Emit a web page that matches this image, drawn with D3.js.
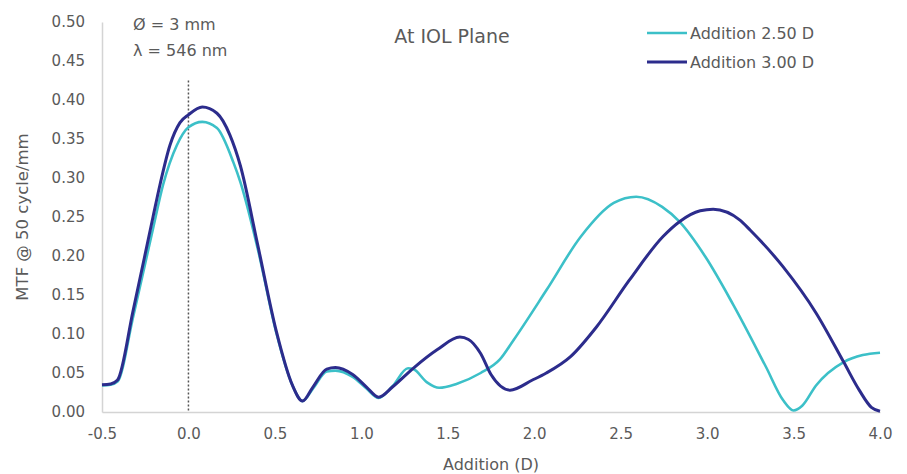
<!DOCTYPE html>
<html>
<head>
<meta charset="utf-8">
<script src="https://cdn.jsdelivr.net/npm/d3@7"></script>
<style>
  html, body { margin: 0; padding: 0; background: #fff; }
  svg { display: block; }
  text { font-family: "DejaVu Sans", "Open Sans", sans-serif; fill: #5a5a5a; }
</style>
</head>
<body>
<script>
// ---- data ----
const xTicks = [-0.5, 0.0, 0.5, 1.0, 1.5, 2.0, 2.5, 3.0, 3.5, 4.0];
const yTicks = [0.00, 0.05, 0.10, 0.15, 0.20, 0.25, 0.30, 0.35, 0.40, 0.45, 0.50];
const seriesNames = ["Addition 2.50 D", "Addition 3.00 D"];

const add250 = [
  [-0.5, 0.034], [-0.45, 0.035], [-0.41, 0.039], [-0.32, 0.122], [-0.205, 0.235],
  [-0.147, 0.291], [-0.067, 0.342], [0.0, 0.365], [0.08, 0.372], [0.165, 0.364],
  [0.26, 0.32], [0.3, 0.295], [0.4, 0.21], [0.51, 0.10], [0.6, 0.035], [0.66, 0.014],
  [0.72, 0.03], [0.8, 0.052], [0.85, 0.053], [0.95, 0.045], [1.03, 0.03],
  [1.1, 0.018], [1.18, 0.033], [1.27, 0.056], [1.3, 0.055], [1.38, 0.038],
  [1.45, 0.031], [1.55, 0.036], [1.69, 0.05], [1.8, 0.067], [1.88, 0.092],
  [2.07, 0.156], [2.27, 0.225], [2.46, 0.268], [2.59, 0.276], [2.74, 0.263],
  [2.84, 0.244], [2.99, 0.199], [3.15, 0.138], [3.34, 0.058], [3.44, 0.015],
  [3.5, 0.002], [3.55, 0.008], [3.63, 0.034], [3.79, 0.064], [3.9, 0.073], [4.0, 0.076]
];
const add300 = [
  [-0.5, 0.035], [-0.45, 0.036], [-0.41, 0.041], [-0.32, 0.13], [-0.205, 0.25],
  [-0.165, 0.291], [-0.107, 0.342], [-0.049, 0.371], [0.0, 0.381], [0.08, 0.391],
  [0.165, 0.383], [0.24, 0.355], [0.3, 0.316], [0.4, 0.215], [0.51, 0.102], [0.6, 0.035], [0.66, 0.014],
  [0.72, 0.032], [0.8, 0.055], [0.85, 0.057], [0.95, 0.048], [1.03, 0.032],
  [1.1, 0.019], [1.18, 0.032], [1.3, 0.056], [1.44, 0.08], [1.57, 0.096],
  [1.62, 0.093], [1.69, 0.075], [1.75, 0.048], [1.86, 0.028], [1.99, 0.041],
  [2.07, 0.05], [2.21, 0.071], [2.36, 0.109], [2.55, 0.169], [2.745, 0.225],
  [2.84, 0.244], [2.96, 0.258], [3.035, 0.26], [3.19, 0.246], [3.25, 0.233],
  [3.44, 0.186], [3.63, 0.127], [3.79, 0.064], [3.88, 0.028], [3.95, 0.006], [4.0, 0.001]
];
const colors = ["#3cc0c8", "#2c2c8c"];

// ---- layout ----
const W = 907, H = 474;
const m = { left: 102, right: 27, top: 22, bottom: 62 };
const svg = d3.select("body").append("svg").attr("width", W).attr("height", H);

const x = d3.scaleLinear().domain([-0.5, 4.0]).range([m.left, W - m.right]);
const y = d3.scaleLinear().domain([0, 0.5]).range([H - m.bottom, m.top]);

// axes
const xAxis = svg.append("g").attr("transform", `translate(0,${H - m.bottom})`)
  .call(d3.axisBottom(x).tickValues(xTicks).tickFormat(d3.format(".1f")).tickSize(0).tickPadding(16));
const yAxis = svg.append("g").attr("transform", `translate(${m.left},0)`)
  .call(d3.axisLeft(y).tickValues(yTicks).tickFormat(d3.format(".2f")).tickSize(0).tickPadding(17));
[xAxis, yAxis].forEach(g => {
  g.select(".domain").attr("stroke", "#d4d4d4").attr("stroke-width", 1.5);
  g.selectAll("text").style("font-size", "15px").attr("fill", "#5a5a5a");
});
xAxis.selectAll("text").text(d => d3.format(".1f")(d).replace("−", "-"));

// dotted reference line
svg.append("line")
  .attr("x1", x(0)).attr("x2", x(0))
  .attr("y1", y(0.425)).attr("y2", y(0))
  .attr("stroke", "#555").attr("stroke-width", 1.5).attr("stroke-dasharray", "2,2");

// lines
const line = d3.line().x(d => x(d[0])).y(d => y(d[1])).curve(d3.curveMonotoneX);
svg.append("path").datum(add250).attr("d", line)
  .attr("fill", "none").attr("stroke", colors[0]).attr("stroke-width", 2.6);
svg.append("path").datum(add300).attr("d", line)
  .attr("fill", "none").attr("stroke", colors[1]).attr("stroke-width", 3);

// axis titles
svg.append("text").attr("x", (x(-0.5) + x(4.0)) / 2).attr("y", 470)
  .attr("text-anchor", "middle").style("font-size", "16px").text("Addition (D)");
svg.append("text").attr("transform", `translate(28,${y(0.25)}) rotate(-90)`)
  .attr("text-anchor", "middle").style("font-size", "16.5px").text("MTF @ 50 cycle/mm");

// title & annotations
svg.append("text").attr("x", 452).attr("y", 43).attr("text-anchor", "middle")
  .style("font-size", "19px").text("At IOL Plane");
svg.append("text").attr("x", 133).attr("y", 30).style("font-size", "16px").text("Ø = 3 mm");
svg.append("text").attr("x", 133).attr("y", 56).style("font-size", "16px").text("λ = 546 nm");

// legend
const leg = svg.append("g");
seriesNames.forEach((name, i) => {
  const ly = 33 + i * 29;
  leg.append("line").attr("x1", 647).attr("x2", 687).attr("y1", ly).attr("y2", ly)
    .attr("stroke", colors[i]).attr("stroke-width", i === 0 ? 2.6 : 3);
  leg.append("text").attr("x", 690).attr("y", ly + 6).style("font-size", "16px").text(name);
});
</script>
</body>
</html>
